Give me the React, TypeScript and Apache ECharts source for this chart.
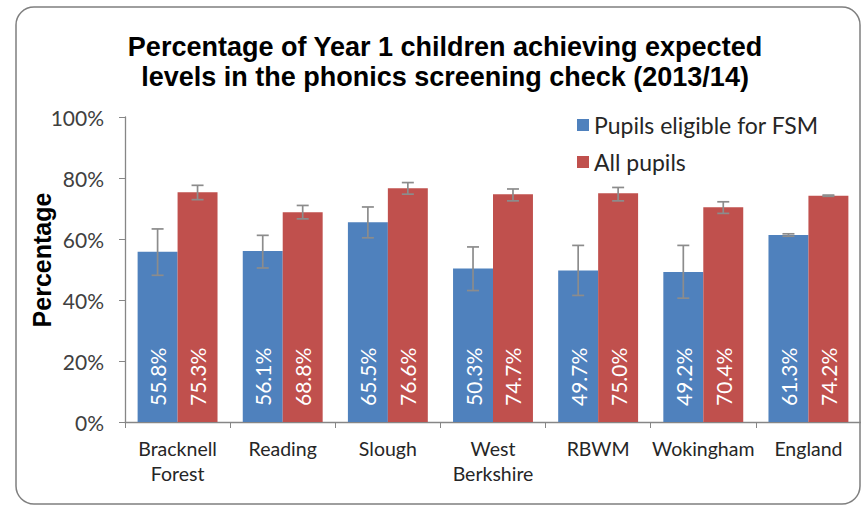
import React, { useEffect, useRef } from "react";
import * as echarts from "echarts";

const categories = ["Bracknell\nForest", "Reading", "Slough", "West\nBerkshire", "RBWM", "Wokingham", "England"];
const fsmValues = [55.8, 56.1, 65.5, 50.3, 49.7, 49.2, 61.3];
const allValues = [75.3, 68.8, 76.6, 74.7, 75.0, 70.4, 74.2];
const fsmLow = [48.1, 50.5, 60.4, 43.1, 41.5, 40.6, 60.9];
const fsmHigh = [63.3, 61.2, 70.5, 57.4, 57.9, 57.9, 61.7];
const allLow = [72.9, 66.6, 74.7, 72.5, 72.5, 68.4, 74.0];
const allHigh = [77.6, 71.0, 78.5, 76.4, 76.9, 72.2, 74.4];
const yTicks = [0, 20, 40, 60, 80, 100];

const FONT = "Lato, 'Open Sans', sans-serif";
const ARIAL = "'Liberation Sans', Arial, sans-serif";

function errorSeries(low: number[], high: number[], sign: number) {
  return {
    type: "custom",
    silent: true,
    z: 10,
    encode: { x: 0, y: [1, 2] },
    data: low.map((l, i) => [i, l, high[i]]),
    renderItem: (params: any, api: any) => {
      const idx = api.value(0);
      const band = api.size([1, 0])[0];
      const off = sign * band * 0.19;
      const lo = api.coord([idx, api.value(1)]);
      const hi = api.coord([idx, api.value(2)]);
      const x = lo[0] + off;
      const cap = 6;
      const style = { stroke: "#8c8c8c", lineWidth: 1.7, fill: "none" };
      return {
        type: "group",
        children: [
          { type: "line", shape: { x1: x, y1: lo[1], x2: x, y2: hi[1] }, style },
          { type: "line", shape: { x1: x - cap, y1: lo[1], x2: x + cap, y2: lo[1] }, style },
          { type: "line", shape: { x1: x - cap, y1: hi[1], x2: x + cap, y2: hi[1] }, style },
        ],
      };
    },
  };
}

export default function App() {
  const ref = useRef<HTMLDivElement>(null);
  useEffect(() => {
    if (!ref.current) return;
    const chart = echarts.init(ref.current, undefined, { renderer: "svg" });
    const label = {
      show: true,
      position: "insideBottom",
      rotate: 90,
      align: "left",
      verticalAlign: "middle",
      distance: 16,
      color: "#ffffff",
      fontSize: 21,
      fontFamily: FONT,
      formatter: (p: any) => `${Number(p.value).toFixed(1)}%`,
    };
    chart.setOption({
      animation: false,
      backgroundColor: "#ffffff",
      graphic: [
        {
          type: "rect",
          shape: { x: 16, y: 7, width: 844, height: 497, r: 18 },
          style: { fill: "none", stroke: "#7f7f7f", lineWidth: 1.5 },
          z: -1,
        },
        {
          type: "text",
          x: 42,
          y: 260,
          rotation: Math.PI / 2,
          style: {
            text: "Percentage",
            fontFamily: ARIAL,
            fontWeight: "bold",
            fontSize: 25,
            fill: "#000000",
            align: "center",
            verticalAlign: "middle",
          },
        },
      ],
      title: {
        text: "Percentage of Year 1 children achieving expected\nlevels in the phonics screening check (2013/14)",
        left: 440,
        textAlign: "center",
        top: 27,
        textStyle: {
          fontFamily: ARIAL,
          fontWeight: "bold",
          fontSize: 27,
          lineHeight: 30,
          color: "#000000",
        },
      },
      legend: {
        data: ["Pupils eligible for FSM", "All pupils"],
        orient: "vertical",
        left: 572,
        top: 107,
        itemWidth: 12,
        itemHeight: 12,
        itemGap: 11,
        icon: "rect",
        textStyle: { fontSize: 23, lineHeight: 26, fontFamily: FONT, color: "#262626" },
      },
      grid: { left: 125, right: 0, top: 117, bottom: 84, containLabel: false },
      xAxis: {
        type: "category",
        data: categories,
        axisLine: { lineStyle: { color: "#868686", width: 1.3 } },
        axisTick: { show: true, length: 6, lineStyle: { color: "#868686" } },
        axisLabel: {
          fontSize: 19.5,
          fontFamily: FONT,
          color: "#262626",
          margin: 14,
          lineHeight: 25,
          interval: 0,
        },
      },
      yAxis: {
        type: "value",
        min: 0,
        max: 100,
        interval: 20,
        splitLine: { show: false },
        axisLine: { show: true, lineStyle: { color: "#868686", width: 1.3 } },
        axisTick: { show: true, length: 6, lineStyle: { color: "#868686" } },
        axisLabel: {
          fontSize: 21,
          fontFamily: FONT,
          color: "#404040",
          margin: 21,
          formatter: (v: number) => (yTicks.includes(v) ? `${v}%` : ""),
        },
      },
      series: [
        {
          name: "Pupils eligible for FSM",
          type: "bar",
          data: fsmValues,
          barGap: "0%",
          barCategoryGap: "24%",
          itemStyle: { color: "#4F81BD" },
          label,
        },
        {
          name: "All pupils",
          type: "bar",
          data: allValues,
          barGap: "0%",
          barCategoryGap: "24%",
          itemStyle: { color: "#C0504D" },
          label,
        },
        errorSeries(fsmLow, fsmHigh, -1),
        errorSeries(allLow, allHigh, 1),
      ],
    });
    return () => chart.dispose();
  }, []);
  return (
    <div
      ref={ref}
      style={{ position: "fixed", left: 0, top: 0, width: 861, height: 506 }}
    />
  );
}
